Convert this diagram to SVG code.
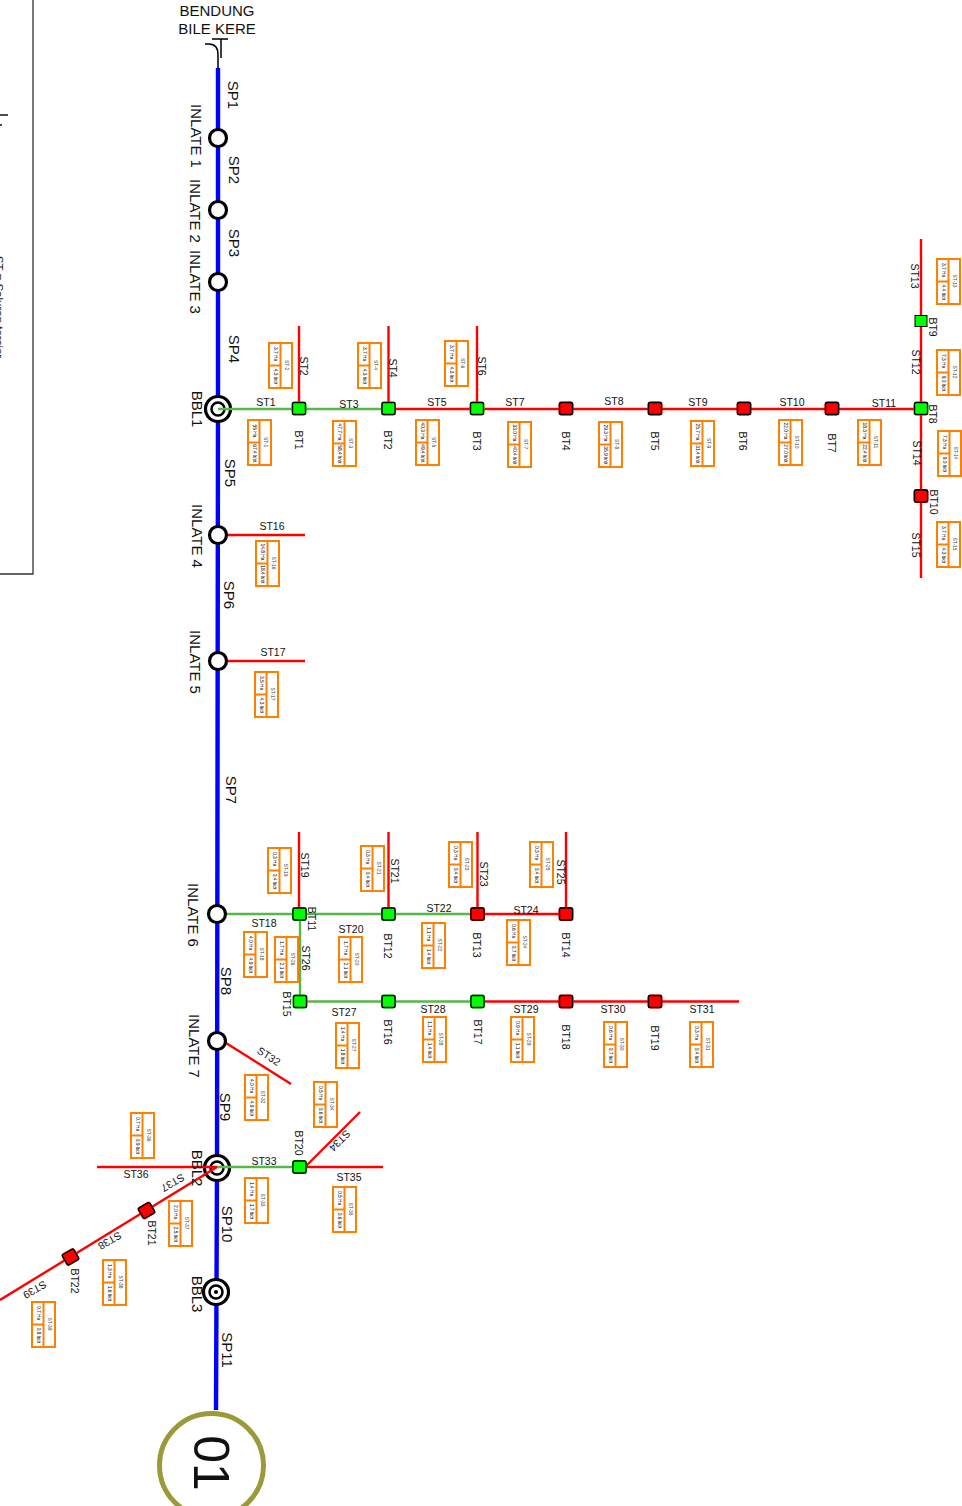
<svg xmlns="http://www.w3.org/2000/svg" xmlns:xlink="http://www.w3.org/1999/xlink" width="962" height="1506" viewBox="0 0 962 1506">
<style>
text{font-family:"Liberation Sans",Arial,sans-serif;fill:#111;text-anchor:middle;dominant-baseline:central}
.l{font-size:10.5px}.b{font-size:10.5px}.m{font-size:15px}.t{font-size:15px}
.v{font-size:4.8px;fill:#000}.n{font-size:4.8px;fill:#444}
.blue{stroke:#0000ff;stroke-width:4.4;fill:none}
.red{stroke:#ff0000;stroke-width:2.4;fill:none}
.green{stroke:#55b848;stroke-width:2.4;fill:none}
.ring{fill:#fff;stroke:#000;stroke-width:3.2}
.ring2{fill:#fff;stroke:#000;stroke-width:2.5}
.box{fill:#fff;stroke:#ff8000;stroke-width:2}
</style>
<defs>
<g id="b"><rect class="box" x="0" y="0" width="23" height="45"/><path class="box" d="M11.5 0V45M0 22.5H11.5"/></g>
<g id="ng"><rect x="-7.500" y="-7" width="15" height="14" rx="3" fill="#00ff00"/><rect x="-6.500" y="-6" width="13" height="12" rx="1.500" fill="#00ff00" stroke="#000" stroke-width="1.400"/></g>
<g id="nr"><rect x="-7.500" y="-7" width="15" height="14" rx="3" fill="#ff0000"/><rect x="-6.500" y="-6" width="13" height="12" rx="1.500" fill="#ff0000" stroke="#000" stroke-width="1.400"/></g>
</defs>
<rect width="962" height="1506" fill="#fff"/>
<g id="legend-panel">
<path d="M33 0V574H0" fill="none" stroke="#333" stroke-width="1.3"/>
<path d="M0 115H8M0 125H2" fill="none" stroke="#111" stroke-width="1.6"/>
<text transform="translate(-1,307) rotate(90)" style="font-size:11.500px">ST = Saluran tersier</text>
</g>
<g id="connectors">
<path class="blue" d="M218 68V409L217 1168L216 1410"/>
<path class="green" d="M218 409H388M218 914H477M300 914V1001M300 1001.500H477M217 1167H299"/>
<path class="red" d="M388 409H921M921 239V578M299 326V408M388.500 326V408M477 326V408M228 535H305M228 661H305M299 832V914M388.500 832V914M477.500 832V914M566 832V914M477 914H566M477 1001.500H739M226 1043L291 1084M299 1167H383M305 1167L360 1112M97 1167H217M217 1167L0 1300"/>
</g>
<path id="bendung" d="M205 44H209Q218 44 218 55V68M212 39H228M221 39V58" fill="none" stroke="#000" stroke-width="1.500"/>
<g id="bendung-label"><text class="t" x="217" y="10">BENDUNG</text><text class="t" x="217" y="28">BILE KERE</text></g>
<g id="inlate-1"><circle class="ring" cx="218" cy="138" r="8.500"/><text class="m" transform="translate(196,136) rotate(90)">INLATE 1</text></g>
<g id="inlate-2"><circle class="ring" cx="218" cy="210" r="8.500"/><text class="m" transform="translate(195,211) rotate(90)">INLATE 2</text></g>
<g id="inlate-3"><circle class="ring" cx="218" cy="282" r="8.500"/><text class="m" transform="translate(195,282) rotate(90)">INLATE 3</text></g>
<g id="inlate-4"><circle class="ring" cx="218" cy="535" r="8.500"/><text class="m" transform="translate(197,536) rotate(90)">INLATE 4</text></g>
<g id="inlate-5"><circle class="ring" cx="218" cy="661" r="8.500"/><text class="m" transform="translate(195,662) rotate(90)">INLATE 5</text></g>
<g id="inlate-6"><circle class="ring" cx="217" cy="914" r="8.500"/><text class="m" transform="translate(193,915) rotate(90)">INLATE 6</text></g>
<g id="inlate-7"><circle class="ring" cx="217" cy="1041" r="8.500"/><text class="m" transform="translate(194,1046) rotate(90)">INLATE 7</text></g>
<g id="bbl-1"><circle class="ring" cx="218" cy="409" r="12.500"/><circle class="ring2" cx="218" cy="409" r="6.500"/><text class="m" transform="translate(197,409) rotate(90)">BBL1</text></g>
<g id="bbl-2"><circle class="ring" cx="217" cy="1168" r="12.500"/><circle class="ring2" cx="217" cy="1168" r="6.500"/><text class="m" transform="translate(197,1168) rotate(90)">BBL2</text></g>
<g id="bbl-3"><circle class="ring" cx="216" cy="1292" r="12.500"/><circle class="ring2" cx="216" cy="1292" r="6.500"/><circle cx="216" cy="1292" r="2" fill="#000"/><text class="m" transform="translate(197,1294) rotate(90)">BBL3</text></g>
<path class="green" d="M218 409H232M217 1167H231"/>
<path class="red" d="M203 1167H217M217 1167L203 1175.500"/>
<g id="end-01"><circle cx="211.500" cy="1465.500" r="52" fill="#fff" stroke="#9a9a3a" stroke-width="5"/><text transform="translate(211,1463) rotate(90)" style="font-size:50px">01</text></g>
<g id="segment-labels">
<text class="m" transform="translate(233,95) rotate(90)">SP1</text>
<text class="m" transform="translate(234,170) rotate(90)">SP2</text>
<text class="m" transform="translate(234,243) rotate(90)">SP3</text>
<text class="m" transform="translate(234,349) rotate(90)">SP4</text>
<text class="m" transform="translate(230,473) rotate(90)">SP5</text>
<text class="m" transform="translate(229,595) rotate(90)">SP6</text>
<text class="m" transform="translate(231,790) rotate(90)">SP7</text>
<text class="m" transform="translate(226,981) rotate(90)">SP8</text>
<text class="m" transform="translate(225,1107) rotate(90)">SP9</text>
<text class="m" transform="translate(227,1224) rotate(90)">SP10</text>
<text class="m" transform="translate(227,1350) rotate(90)">SP11</text>
</g>
<g id="tertiary-labels">
<text class="l" x="266" y="402">ST1</text><text class="l" x="349" y="404">ST3</text><text class="l" x="437" y="402">ST5</text><text class="l" x="515" y="402">ST7</text><text class="l" x="614" y="401">ST8</text><text class="l" x="698" y="402">ST9</text><text class="l" x="792" y="402">ST10</text><text class="l" x="884" y="403">ST11</text>
<text class="l" x="272" y="526">ST16</text><text class="l" x="273" y="652">ST17</text><text class="l" x="264" y="923">ST18</text><text class="l" x="351" y="929">ST20</text><text class="l" x="439" y="908">ST22</text><text class="l" x="526" y="910">ST24</text>
<text class="l" x="344" y="1012">ST27</text><text class="l" x="433" y="1009">ST28</text><text class="l" x="526" y="1009">ST29</text><text class="l" x="613" y="1009">ST30</text><text class="l" x="702" y="1009">ST31</text>
<text class="l" x="264" y="1161">ST33</text><text class="l" x="349" y="1177">ST35</text><text class="l" x="136" y="1174">ST36</text>
<text class="l" transform="translate(304,366) rotate(90)">ST2</text><text class="l" transform="translate(393,368) rotate(90)">ST4</text><text class="l" transform="translate(482,366) rotate(90)">ST6</text>
<text class="l" transform="translate(915,276) rotate(90)">ST13</text><text class="l" transform="translate(916,362) rotate(90)">ST12</text><text class="l" transform="translate(917,453) rotate(90)">ST14</text><text class="l" transform="translate(916,545) rotate(90)">ST15</text>
<text class="l" transform="translate(305,865) rotate(90)">ST19</text><text class="l" transform="translate(395,871) rotate(90)">ST21</text><text class="l" transform="translate(484,874) rotate(90)">ST23</text><text class="l" transform="translate(561,872) rotate(90)">ST25</text><text class="l" transform="translate(306,958) rotate(90)">ST26</text>
<text class="l" transform="translate(269,1056) rotate(33)">ST32</text><text class="l" transform="translate(340,1141) rotate(135)">ST34</text>
<text class="l" transform="translate(173,1183) rotate(150)">ST37</text><text class="l" transform="translate(110,1241) rotate(150)">ST38</text><text class="l" transform="translate(35,1290) rotate(150)">ST39</text>
</g>
<g id="bt1"><use href="#ng" x="299" y="408.500"/><text class="b" transform="translate(299,440) rotate(90)">BT1</text></g>
<g id="bt2"><use href="#ng" x="388.500" y="408.500"/><text class="b" transform="translate(388,440) rotate(90)">BT2</text></g>
<g id="bt3"><use href="#ng" x="477" y="408.500"/><text class="b" transform="translate(477,441) rotate(90)">BT3</text></g>
<g id="bt4"><use href="#nr" x="566" y="408.500"/><text class="b" transform="translate(566,441) rotate(90)">BT4</text></g>
<g id="bt5"><use href="#nr" x="655" y="408.500"/><text class="b" transform="translate(655,441) rotate(90)">BT5</text></g>
<g id="bt6"><use href="#nr" x="744" y="408.500"/><text class="b" transform="translate(743,441) rotate(90)">BT6</text></g>
<g id="bt7"><use href="#nr" x="832" y="408.500"/><text class="b" transform="translate(832,443) rotate(90)">BT7</text></g>
<g id="bt8"><use href="#ng" x="921" y="408.500"/><text class="b" transform="translate(933,414) rotate(90)">BT8</text></g>
<g id="bt9"><rect x="915" y="315.500" width="12" height="11" fill="#00ff00" stroke="#000" stroke-width="1"/><text class="b" transform="translate(933,327) rotate(90)">BT9</text></g>
<g id="bt10"><use href="#nr" x="921" y="496"/><text class="b" transform="translate(934,502) rotate(90)">BT10</text></g>
<g id="bt11"><use href="#ng" x="299.500" y="914"/><text class="b" transform="translate(312,919) rotate(90)">BT11</text></g>
<g id="bt12"><use href="#ng" x="388.500" y="914"/><text class="b" transform="translate(388,946) rotate(90)">BT12</text></g>
<g id="bt13"><use href="#nr" x="477.500" y="914"/><text class="b" transform="translate(477,945) rotate(90)">BT13</text></g>
<g id="bt14"><use href="#nr" x="566" y="914"/><text class="b" transform="translate(566,945) rotate(90)">BT14</text></g>
<g id="bt15"><use href="#ng" x="300" y="1001.500"/><text class="b" transform="translate(287,1004) rotate(90)">BT15</text></g>
<g id="bt16"><use href="#ng" x="388.500" y="1001.500"/><text class="b" transform="translate(388,1032) rotate(90)">BT16</text></g>
<g id="bt17"><use href="#ng" x="477.500" y="1001.500"/><text class="b" transform="translate(478,1032) rotate(90)">BT17</text></g>
<g id="bt18"><use href="#nr" x="566" y="1001.500"/><text class="b" transform="translate(566,1037) rotate(90)">BT18</text></g>
<g id="bt19"><use href="#nr" x="655" y="1001.500"/><text class="b" transform="translate(655,1038) rotate(90)">BT19</text></g>
<g id="bt20"><use href="#ng" x="299.500" y="1167"/><text class="b" transform="translate(299,1143) rotate(90)">BT20</text></g>
<g id="bt21"><use href="#nr" transform="translate(146.500,1210.500) rotate(-30)"/><text class="b" transform="translate(152,1233) rotate(90)">BT21</text></g>
<g id="bt22"><use href="#nr" transform="translate(70.500,1257) rotate(-30)"/><text class="b" transform="translate(75,1281) rotate(90)">BT22</text></g>
<g id="st-1" transform="translate(248,420)"><use href="#b"/><text class="v" transform="translate(6,11) rotate(90)">55 Ha</text><text class="v" transform="translate(6,33.500) rotate(90)">67,4 lt/dt</text><text class="n" transform="translate(17,22) rotate(90)">ST-1</text></g>
<g id="st-2" transform="translate(269,343)"><use href="#b"/><text class="v" transform="translate(6,11) rotate(90)">3,7 Ha</text><text class="v" transform="translate(6,33.500) rotate(90)">4,3 lt/dt</text><text class="n" transform="translate(17,22) rotate(90)">ST-2</text></g>
<g id="st-3" transform="translate(333,421)"><use href="#b"/><text class="v" transform="translate(6,11) rotate(90)">47,7 Ha</text><text class="v" transform="translate(6,33.500) rotate(90)">58,4 lt/dt</text><text class="n" transform="translate(17,22) rotate(90)">ST-3</text></g>
<g id="st-4" transform="translate(358,343)"><use href="#b"/><text class="v" transform="translate(6,11) rotate(90)">3,7 Ha</text><text class="v" transform="translate(6,33.500) rotate(90)">4,3 lt/dt</text><text class="n" transform="translate(17,22) rotate(90)">ST-4</text></g>
<g id="st-5" transform="translate(416,420)"><use href="#b"/><text class="v" transform="translate(6,11) rotate(90)">40,3 Ha</text><text class="v" transform="translate(6,33.500) rotate(90)">49,4 lt/dt</text><text class="n" transform="translate(17,22) rotate(90)">ST-5</text></g>
<g id="st-6" transform="translate(445,341)"><use href="#b"/><text class="v" transform="translate(6,11) rotate(90)">3,7 Ha</text><text class="v" transform="translate(6,33.500) rotate(90)">4,3 lt/dt</text><text class="n" transform="translate(17,22) rotate(90)">ST-6</text></g>
<g id="st-7" transform="translate(508,422)"><use href="#b"/><text class="v" transform="translate(6,11) rotate(90)">33,0 Ha</text><text class="v" transform="translate(6,33.500) rotate(90)">40,4 lt/dt</text><text class="n" transform="translate(17,22) rotate(90)">ST-7</text></g>
<g id="st-8" transform="translate(599,422)"><use href="#b"/><text class="v" transform="translate(6,11) rotate(90)">29,3 Ha</text><text class="v" transform="translate(6,33.500) rotate(90)">35,9 lt/dt</text><text class="n" transform="translate(17,22) rotate(90)">ST-8</text></g>
<g id="st-9" transform="translate(691,421)"><use href="#b"/><text class="v" transform="translate(6,11) rotate(90)">25,7 Ha</text><text class="v" transform="translate(6,33.500) rotate(90)">31,4 lt/dt</text><text class="n" transform="translate(17,22) rotate(90)">ST-9</text></g>
<g id="st-10" transform="translate(779,420)"><use href="#b"/><text class="v" transform="translate(6,11) rotate(90)">22,0 Ha</text><text class="v" transform="translate(6,33.500) rotate(90)">27,0 lt/dt</text><text class="n" transform="translate(17,22) rotate(90)">ST-10</text></g>
<g id="st-11" transform="translate(858,420)"><use href="#b"/><text class="v" transform="translate(6,11) rotate(90)">18,3 Ha</text><text class="v" transform="translate(6,33.500) rotate(90)">22,4 lt/dt</text><text class="n" transform="translate(17,22) rotate(90)">ST-11</text></g>
<g id="st-12" transform="translate(937,350)"><use href="#b"/><text class="v" transform="translate(6,11) rotate(90)">7,3 Ha</text><text class="v" transform="translate(6,33.500) rotate(90)">9,0 lt/dt</text><text class="n" transform="translate(17,22) rotate(90)">ST-12</text></g>
<g id="st-13" transform="translate(937,259)"><use href="#b"/><text class="v" transform="translate(6,11) rotate(90)">3,7 Ha</text><text class="v" transform="translate(6,33.500) rotate(90)">4,4 lt/dt</text><text class="n" transform="translate(17,22) rotate(90)">ST-13</text></g>
<g id="st-14" transform="translate(938,431)"><use href="#b"/><text class="v" transform="translate(6,11) rotate(90)">7,3 Ha</text><text class="v" transform="translate(6,33.500) rotate(90)">9,0 lt/dt</text><text class="n" transform="translate(17,22) rotate(90)">ST-14</text></g>
<g id="st-15" transform="translate(937,522)"><use href="#b"/><text class="v" transform="translate(6,11) rotate(90)">3,7 Ha</text><text class="v" transform="translate(6,33.500) rotate(90)">4,3 lt/dt</text><text class="n" transform="translate(17,22) rotate(90)">ST-15</text></g>
<g id="st-16" transform="translate(256,541)"><use href="#b"/><text class="v" transform="translate(6,11) rotate(90)">14,8 Ha</text><text class="v" transform="translate(6,33.500) rotate(90)">18,4 lt/dt</text><text class="n" transform="translate(17,22) rotate(90)">ST-16</text></g>
<g id="st-17" transform="translate(255,672)"><use href="#b"/><text class="v" transform="translate(6,11) rotate(90)">3,5 Ha</text><text class="v" transform="translate(6,33.500) rotate(90)">4,3 lt/dt</text><text class="n" transform="translate(17,22) rotate(90)">ST-17</text></g>
<g id="st-18" transform="translate(244,932)"><use href="#b"/><text class="v" transform="translate(6,11) rotate(90)">4,0 Ha</text><text class="v" transform="translate(6,33.500) rotate(90)">4,9 lt/dt</text><text class="n" transform="translate(17,22) rotate(90)">ST-18</text></g>
<g id="st-19" transform="translate(268,848)"><use href="#b"/><text class="v" transform="translate(6,11) rotate(90)">0,3 Ha</text><text class="v" transform="translate(6,33.500) rotate(90)">0,4 lt/dt</text><text class="n" transform="translate(17,22) rotate(90)">ST-19</text></g>
<g id="st-20" transform="translate(339,937)"><use href="#b"/><text class="v" transform="translate(6,11) rotate(90)">1,7 Ha</text><text class="v" transform="translate(6,33.500) rotate(90)">2,1 lt/dt</text><text class="n" transform="translate(17,22) rotate(90)">ST-20</text></g>
<g id="st-21" transform="translate(361,846)"><use href="#b"/><text class="v" transform="translate(6,11) rotate(90)">0,3 Ha</text><text class="v" transform="translate(6,33.500) rotate(90)">0,4 lt/dt</text><text class="n" transform="translate(17,22) rotate(90)">ST-21</text></g>
<g id="st-22" transform="translate(422,923)"><use href="#b"/><text class="v" transform="translate(6,11) rotate(90)">1,1 Ha</text><text class="v" transform="translate(6,33.500) rotate(90)">1,4 lt/dt</text><text class="n" transform="translate(17,22) rotate(90)">ST-22</text></g>
<g id="st-23" transform="translate(449,842)"><use href="#b"/><text class="v" transform="translate(6,11) rotate(90)">0,3 Ha</text><text class="v" transform="translate(6,33.500) rotate(90)">0,4 lt/dt</text><text class="n" transform="translate(17,22) rotate(90)">ST-23</text></g>
<g id="st-24" transform="translate(507,920)"><use href="#b"/><text class="v" transform="translate(6,11) rotate(90)">0,6 Ha</text><text class="v" transform="translate(6,33.500) rotate(90)">0,7 lt/dt</text><text class="n" transform="translate(17,22) rotate(90)">ST-24</text></g>
<g id="st-25" transform="translate(530,842)"><use href="#b"/><text class="v" transform="translate(6,11) rotate(90)">0,3 Ha</text><text class="v" transform="translate(6,33.500) rotate(90)">0,4 lt/dt</text><text class="n" transform="translate(17,22) rotate(90)">ST-25</text></g>
<g id="st-26" transform="translate(275,937)"><use href="#b"/><text class="v" transform="translate(6,11) rotate(90)">1,7 Ha</text><text class="v" transform="translate(6,33.500) rotate(90)">2,1 lt/dt</text><text class="n" transform="translate(17,22) rotate(90)">ST-26</text></g>
<g id="st-27" transform="translate(336,1023)"><use href="#b"/><text class="v" transform="translate(6,11) rotate(90)">1,4 Ha</text><text class="v" transform="translate(6,33.500) rotate(90)">1,8 lt/dt</text><text class="n" transform="translate(17,22) rotate(90)">ST-27</text></g>
<g id="st-28" transform="translate(423,1017)"><use href="#b"/><text class="v" transform="translate(6,11) rotate(90)">1,1 Ha</text><text class="v" transform="translate(6,33.500) rotate(90)">1,4 lt/dt</text><text class="n" transform="translate(17,22) rotate(90)">ST-28</text></g>
<g id="st-29" transform="translate(511,1017)"><use href="#b"/><text class="v" transform="translate(6,11) rotate(90)">0,9 Ha</text><text class="v" transform="translate(6,33.500) rotate(90)">1,1 lt/dt</text><text class="n" transform="translate(17,22) rotate(90)">ST-29</text></g>
<g id="st-30" transform="translate(604,1022)"><use href="#b"/><text class="v" transform="translate(6,11) rotate(90)">0,6 Ha</text><text class="v" transform="translate(6,33.500) rotate(90)">0,7 lt/dt</text><text class="n" transform="translate(17,22) rotate(90)">ST-30</text></g>
<g id="st-31" transform="translate(690,1022)"><use href="#b"/><text class="v" transform="translate(6,11) rotate(90)">0,3 Ha</text><text class="v" transform="translate(6,33.500) rotate(90)">0,4 lt/dt</text><text class="n" transform="translate(17,22) rotate(90)">ST-31</text></g>
<g id="st-32" transform="translate(245,1075)"><use href="#b"/><text class="v" transform="translate(6,11) rotate(90)">4,0 Ha</text><text class="v" transform="translate(6,33.500) rotate(90)">4,9 lt/dt</text><text class="n" transform="translate(17,22) rotate(90)">ST-32</text></g>
<g id="st-33" transform="translate(245,1178)"><use href="#b"/><text class="v" transform="translate(6,11) rotate(90)">1,4 Ha</text><text class="v" transform="translate(6,33.500) rotate(90)">1,7 lt/dt</text><text class="n" transform="translate(17,22) rotate(90)">ST-33</text></g>
<g id="st-34" transform="translate(314,1082)"><use href="#b"/><text class="v" transform="translate(6,11) rotate(90)">0,5 Ha</text><text class="v" transform="translate(6,33.500) rotate(90)">0,6 lt/dt</text><text class="n" transform="translate(17,22) rotate(90)">ST-34</text></g>
<g id="st-35" transform="translate(333,1187)"><use href="#b"/><text class="v" transform="translate(6,11) rotate(90)">0,5 Ha</text><text class="v" transform="translate(6,33.500) rotate(90)">0,6 lt/dt</text><text class="n" transform="translate(17,22) rotate(90)">ST-35</text></g>
<g id="st-36" transform="translate(131,1113)"><use href="#b"/><text class="v" transform="translate(6,11) rotate(90)">0,7 Ha</text><text class="v" transform="translate(6,33.500) rotate(90)">0,9 lt/dt</text><text class="n" transform="translate(17,22) rotate(90)">ST-36</text></g>
<g id="st-37" transform="translate(169,1201)"><use href="#b"/><text class="v" transform="translate(6,11) rotate(90)">2,0 Ha</text><text class="v" transform="translate(6,33.500) rotate(90)">2,5 lt/dt</text><text class="n" transform="translate(17,22) rotate(90)">ST-37</text></g>
<g id="st-38" transform="translate(103,1260)"><use href="#b"/><text class="v" transform="translate(6,11) rotate(90)">1,3 Ha</text><text class="v" transform="translate(6,33.500) rotate(90)">1,6 lt/dt</text><text class="n" transform="translate(17,22) rotate(90)">ST-38</text></g>
<g id="st-39" transform="translate(32,1302)"><use href="#b"/><text class="v" transform="translate(6,11) rotate(90)">0,7 Ha</text><text class="v" transform="translate(6,33.500) rotate(90)">0,8 lt/dt</text><text class="n" transform="translate(17,22) rotate(90)">ST-39</text></g>
</svg>
